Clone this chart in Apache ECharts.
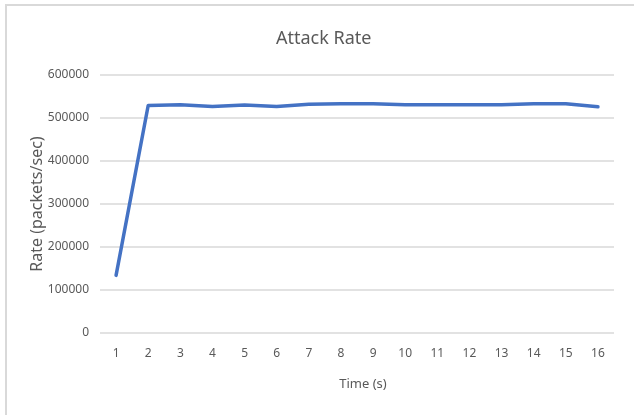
<!DOCTYPE html>
<html>
<head>
<meta charset="utf-8">
<script src="https://cdn.jsdelivr.net/npm/echarts@6/dist/echarts.min.js"></script>
<style>
  html, body { margin: 0; padding: 0; background: #fff; }
  #chart { width: 634px; height: 415px; }
</style>
</head>
<body>
<div id="chart"></div>
<script>
// time in seconds
const timeLabels = ['1', '2', '3', '4', '5', '6', '7', '8', '9', '10', '11', '12', '13', '14', '15', '16'];
// attack rate, packets/sec
const attackRate = [134000, 529000, 531000, 527000, 530000, 527000, 532000, 533000, 533000, 531000, 531000, 531000, 531000, 533000, 533000, 526000];

const textColor = '#595959';
const fontName = 'Noto Sans';

const chart = echarts.init(document.getElementById('chart'));

chart.setOption({
  backgroundColor: '#fff',
  animation: false,
  title: {
    text: 'Attack Rate',
    left: 271,
    top: 25,
    textStyle: { color: textColor, fontSize: 18, fontWeight: 'normal', fontFamily: fontName }
  },
  graphic: [{
    type: 'rect',
    shape: { x: 6, y: 5, width: 650, height: 430 },
    style: { fill: null, stroke: '#d9d9d9', lineWidth: 2 },
    silent: true
  }],
  grid: { left: 100, right: 20, top: 75, bottom: 82 },
  xAxis: {
    type: 'category',
    data: timeLabels,
    name: 'Time (s)',
    nameLocation: 'middle',
    nameGap: 45,
    nameTextStyle: { color: textColor, fontSize: 13, fontFamily: fontName, padding: [0, 0, 0, 12] },
    axisLine: { show: false },
    axisTick: { show: false },
    axisLabel: { color: textColor, fontSize: 12, margin: 15, fontFamily: fontName }
  },
  yAxis: {
    type: 'value',
    min: 0,
    max: 600000,
    interval: 100000,
    name: 'Rate (packets/sec)',
    nameLocation: 'middle',
    nameGap: 55,
    nameMoveOverlap: false,
    nameTextStyle: { color: textColor, fontSize: 16, fontFamily: fontName },
    axisLine: { show: false },
    axisTick: { show: false },
    axisLabel: { color: textColor, fontSize: 12, margin: 11, fontFamily: fontName, formatter: (v) => String(v) },
    splitLine: { lineStyle: { color: '#d9d9d9', width: 1.5 } }
  },
  series: [{
    type: 'line',
    data: attackRate,
    symbol: 'none',
    lineStyle: { color: '#4472c4', width: 3.5, join: 'round', cap: 'round' }
  }]
});
</script>
</body>
</html>
